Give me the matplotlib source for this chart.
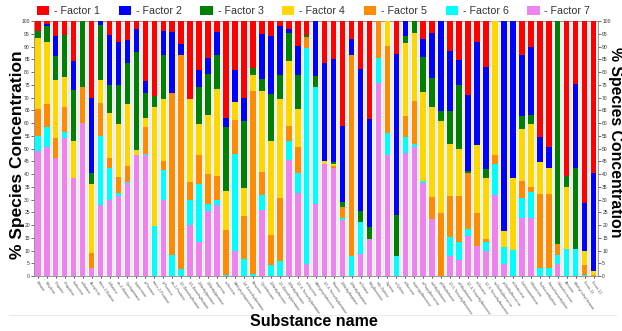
import matplotlib
matplotlib.use("Agg")
import matplotlib.pyplot as plt
import numpy as np
from matplotlib.patches import Patch

plt.rcParams["font.family"] = ["Liberation Sans", "DejaVu Sans"]

SUBSTANCES = [
    "Ethane", "Ethylene", "Propane", "Propylene", "Isobutane", "n-Butane",
    "Acetylene", "trans-2-Butene", "1-Butene", "cis-2-Butene", "Cyclopentane",
    "Isopentane", "n-Pentane", "trans-2-Pentene", "1-Pentene", "cis-2-Pentene",
    "2,2-Dimethylbutane", "2,3-Dimethylbutane", "2-Methylpentane", "3-Methylpentane",
    "Isoprene", "n-Hexane", "Methylcyclopentane", "2,4-Dimethylpentane", "Benzene",
    "Cyclohexane", "2-Methylhexane", "2,3-Dimethylpentane", "3-Methylhexane",
    "2,2,4-Trimethylpentane", "n-Heptane", "Methylcyclohexane",
    "2,3,4-Trimethylpentane", "Toluene", "2-Methylheptane", "3-Methylheptane",
    "n-Octane", "Ethylbenzene", "m/p-Xylene", "Styrene", "o-Xylene", "n-Nonane",
    "Isopropylbenzene", "n-Propylbenzene", "m-Ethyltoluene", "p-Ethyltoluene",
    "1,3,5-Trimethylbenzene", "o-Ethyltoluene", "1,2,4-Trimethylbenzene", "n-Decane",
    "1,2,3-Trimethylbenzene", "m-Diethylbenzene", "p-Diethylbenzene", "n-Undecane",
    "Dichloromethane", "Chloroform", "Trichloroethylene", "Tetrachloroethylene",
    "Chlorobenzene", "Acetone", "Methyl ethyl ketone", "Freon-11", "Freon-12",
]

FACTOR_NAMES = ["Factor 1", "Factor 2", "Factor 3", "Factor 4", "Factor 5", "Factor 6", "Factor 7"]
FACTOR_COLORS = ["#ff0000", "#0000ff", "#008000", "#ffd700", "#ff8c00", "#00ffff", "#ee82ee"]

# % contribution of each factor to every substance
f1 = [4, 1, 6, 5.5, 15.5, 0, 30, 0, 5.5, 8, 7.5, 3, 23.5, 29.5, 3.9, 4.2, 8.8, 30.6,
      19.2, 14.5, 4.2, 38, 19, 30.1, 18.3, 5.2, 5.9, 1.8, 2.9, 9.8, 5.4, 0, 16.6, 15,
      41.2, 6.8, 18.8, 38.3, 0, 0, 12.9, 0, 0, 7.1, 4.8, 0, 11.8, 15.3, 29, 8.1, 17.9,
      0, 0, 0, 13.3, 10.1, 45.6, 49.5, 0, 60.8, 24.8, 71.5, 59.7]
f2 = [0, 1, 7.5, 0, 11.5, 0, 29.5, 1.5, 19.5, 17, 9, 9, 4.5, 0, 9.3, 23.9, 4.5, 0,
      6.8, 6.2, 9, 3.7, 12.6, 9, 0, 17.4, 22.5, 19.4, 1.7, 11.4, 0, 21.6, 38.3, 40.4,
      29.6, 6.5, 55.7, 42.4, 0, 0, 63.2, 5.9, 0, 7.1, 17.3, 35.2, 23.4, 9.9, 29.8,
      40.4, 40.1, 0, 82.4, 61.7, 23.8, 26.8, 9.6, 8.3, 0, 0, 32.7, 18.7, 38.2]
f3 = [2.5, 6, 9.5, 16.5, 20, 26, 4.5, 21.5, 11, 15.5, 16, 38.5, 10, 4, 17.4, 0, 0, 0,
      14.5, 16.2, 13.5, 25, 0, 26.5, 2.9, 4.7, 18.5, 9.4, 11.2, 13.2, 0.7, 4.2, 0, 0.7,
      2, 0, 4.2, 4.8, 0, 0, 16.1, 2.6, 4.8, 13.5, 11.5, 3.9, 12.8, 25.1, 0.9, 0, 3.7,
      0, 0, 0, 5.3, 3.5, 0, 0, 87.5, 4.2, 32, 0, 0]
f4 = [28, 24.5, 23, 11.5, 14.5, 0, 27, 9, 17.5, 20.5, 24.5, 2, 3.5, 47, 24.3, 0, 0,
      32.5, 11.9, 23.1, 34, 15.3, 7, 10.9, 6.1, 31.9, 36.8, 38.7, 25.4, 15, 0, 0, 1.2,
      0.6, 0, 0, 0, 0, 0, 9.7, 0, 28.8, 26.7, 35.2, 35.3, 36.1, 20.6, 18.3, 0, 26.7,
      23.9, 52.5, 6.1, 28.1, 20.3, 24.6, 12.8, 10.2, 0, 24.5, 0, 5.5, 1.6]
f5 = [10.5, 9, 7.5, 10, 0, 14, 6, 13, 4, 6.5, 6, 0, 10.5, 0, 3.5, 63.8, 83.8, 7.1,
      11.4, 11.6, 9.5, 17.6, 13.6, 16.8, 71.7, 9, 12, 24.8, 6, 10.3, 4.4, 0, 0, 0.8,
      4.6, 78.7, 0, 0, 14.6, 34, 0, 8.3, 16.5, 0, 8.9, 24.8, 16, 17.9, 22, 12.9, 0.9,
      3.7, 0, 0, 6.8, 2.2, 28.7, 28.7, 4.3, 0, 0, 3.8, 0.5]
f6 = [6, 8, 0, 2.5, 0, 0, 0, 27, 12.5, 1, 0.5, 0, 0.5, 19.5, 11.8, 8.1, 2.9, 9.7,
      22.7, 2.9, 2, 0.4, 38, 6.7, 1, 5.9, 4.3, 5.9, 7.3, 7.9, 84.9, 46.1, 0, 0, 0.6,
      8, 12.8, 0, 9.8, 8.7, 7.8, 6, 1.4, 0.6, 0, 0, 7.6, 7.2, 2.6, 0, 3.7, 11.9, 6.9,
      10.2, 7.6, 9.9, 3.3, 3.3, 3.6, 10.5, 10.5, 0.5, 0]
f7 = [49, 50.5, 46.5, 54, 38.5, 60, 3, 28, 30, 31.5, 36.5, 47.5, 47.5, 0, 29.8, 0, 0,
      20.1, 13.5, 25.5, 27.8, 0, 9.8, 0, 0, 25.9, 0, 0, 45.5, 32.4, 4.6, 28.1, 43.9,
      42.5, 22, 0, 8.5, 14.5, 75.6, 47.6, 0, 48.4, 50.6, 36.5, 22.2, 0, 7.8, 6.3, 15.7,
      11.9, 9.8, 31.9, 4.6, 0, 22.9, 22.9, 0, 0, 4.6, 0, 0, 0, 0]

factors = [f1, f2, f3, f4, f5, f6, f7]

fig = plt.figure(figsize=(6.22, 3.31), dpi=100)
ax = fig.add_axes([0.0547, 0.166, 0.9068, 0.770])
ax.set_facecolor("#ececec")

x = np.arange(len(SUBSTANCES))
vals = np.array(factors, dtype=float)
# normalise to 100 %
vals = vals / vals.sum(axis=0) * 100.0

# stack from Factor 7 (bottom) up to Factor 1 (top)
bottom = np.zeros(len(x))
for i in range(6, -1, -1):
    ax.bar(x, vals[i], width=0.62, bottom=bottom, color=FACTOR_COLORS[i],
           edgecolor="none", zorder=3)
    bottom += vals[i]

# lighter band around every bar
for xi in x:
    ax.axvspan(xi - 0.42, xi + 0.42, color="#f7f7f7", zorder=1, lw=0)

ax.set_xlim(-0.42, len(x) - 0.5)
ax.set_ylim(0, 100)
ax.set_yticks(np.arange(0, 101, 5))
ax.tick_params(axis="y", labelsize=3.6, length=2, width=0.5, colors="#333333",
               pad=1, right=True, labelright=True)
ax.set_xticks(x)
ax.set_xticklabels(SUBSTANCES, rotation=-55, ha="left", rotation_mode="anchor",
                   fontsize=2.8, color="#555555")
ax.tick_params(axis="x", length=1.5, width=0.5, pad=1.5)
for sp in ax.spines.values():
    sp.set_color("#888888")
    sp.set_linewidth(0.6)

fig.text(18 / 622, 1 - 155 / 331, "% Species Concentration", rotation=90,
         ha="center", va="center", fontsize=12.5, fontweight="bold")
fig.text(615 / 622, 1 - 142 / 331, "% Species Concentration", rotation=270,
         ha="center", va="center", fontsize=11.4, fontweight="bold")
fig.text(313.5 / 622, 1 - 322 / 331, "Substance name", ha="center", va="center",
         fontsize=11.5, fontweight="bold")
fig.add_artist(plt.Line2D([0.015, 0.99], [0.048, 0.048], color="#e6e6e6", lw=0.6))

handles = [Patch(facecolor=c, edgecolor="none") for c in FACTOR_COLORS]
fig.legend(handles, ["- " + n for n in FACTOR_NAMES], loc="upper left",
           bbox_to_anchor=(37 / 622, 1 - 6 / 331), ncol=7, frameon=False,
           fontsize=7.7, labelcolor="#333333", handlelength=1.15, handleheight=0.95,
           handletextpad=0.45, columnspacing=1.75, borderpad=0, borderaxespad=0)

fig.savefig("out.png", dpi=100)
